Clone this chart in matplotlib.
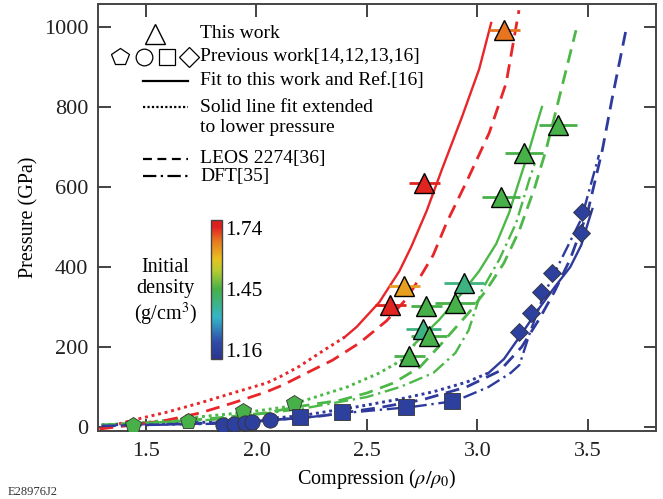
import numpy as np
import matplotlib
matplotlib.use("Agg")
import matplotlib.pyplot as plt
from matplotlib.colors import LinearSegmentedColormap, Normalize
from matplotlib.cm import ScalarMappable

plt.rcParams['font.family'] = ['Liberation Serif', 'DejaVu Serif']
plt.rcParams['mathtext.fontset'] = 'stix'

# ---- data ----
# this work (triangles): compression, pressure, x error, initial density
tri_x = [3.121, 2.76, 2.669, 2.606, 2.769, 2.90, 2.94, 2.755, 2.78, 2.692, 3.211, 3.365, 3.107]
tri_y = [992, 610, 352, 305, 302, 310, 360, 245, 228, 178, 685, 755, 575]
tri_xerr = [0.07, 0.07, 0.07, 0.07, 0.07, 0.09, 0.09, 0.08, 0.08, 0.07, 0.085, 0.085, 0.085]
tri_rho = [1.68, 1.74, 1.633, 1.74, 1.45, 1.45, 1.39, 1.39, 1.45, 1.45, 1.45, 1.45, 1.45]

# previous work
pent_x = [1.44, 1.69, 1.94, 2.17]
pent_y = [5, 14, 40, 60]
circ_x = [1.85, 1.90, 1.95, 1.98, 2.06]
circ_y = [5, 7, 10, 12, 18]
sq_x = [2.195, 2.389, 2.678, 2.886]
sq_y = [25, 38, 50, 65]
dia_x = [3.188, 3.243, 3.288, 3.338, 3.468, 3.473]
dia_y = [238, 285, 337, 385, 485, 537]

# fits (solid) and their extension to low pressure (dotted)
red_fit_x = [2.40, 2.453, 2.556, 2.647, 2.70, 2.77, 2.84, 2.93, 3.008, 3.062]
red_fit_y = [225, 250, 312, 390, 450, 540, 645, 775, 895, 1010]
red_ext_x = [1.29, 1.44, 1.594, 1.744, 1.893, 2.046, 2.105, 2.195, 2.30, 2.40]
red_ext_y = [-5, 17, 37, 60, 85, 110, 125, 152, 190, 225]
green_fit_x = [2.72, 2.827, 2.93, 3.008, 3.085, 3.143, 3.19, 3.234, 3.27, 3.292]
green_fit_y = [210, 268, 335, 390, 458, 535, 617, 692, 760, 800]
green_ext_x = [1.30, 1.51, 1.735, 1.96, 2.13, 2.25, 2.41, 2.556, 2.66, 2.72]
green_ext_y = [5, 12, 25, 37, 50, 72, 100, 135, 168, 210]
blue_fit_x = [3.05, 3.12, 3.19, 3.27, 3.35, 3.42, 3.47, 3.50, 3.52]
blue_fit_y = [135, 170, 225, 290, 350, 400, 455, 510, 545]
blue_ext_x = [1.30, 1.60, 1.90, 2.20, 2.45, 2.65, 2.80, 2.95, 3.05]
blue_ext_y = [5, 9, 14, 28, 50, 70, 88, 112, 135]

# LEOS 2274 (dashed)
red_leos_x = [1.29, 1.44, 1.594, 1.744, 1.893, 2.046, 2.12, 2.227, 2.344, 2.466, 2.588, 2.678, 2.73, 2.80, 2.86, 2.954, 3.053, 3.13, 3.188]
red_leos_y = [-5, 5, 17, 35, 60, 88, 105, 135, 167, 210, 265, 320, 365, 430, 510, 617, 735, 860, 1042]
green_leos_x = [1.30, 1.59, 1.81, 2.04, 2.20, 2.38, 2.50, 2.62, 2.74, 2.84, 2.96, 3.04, 3.12, 3.19, 3.26, 3.31, 3.356, 3.446]
green_leos_y = [5, 12, 22, 35, 52, 67, 85, 110, 150, 210, 285, 342, 410, 492, 600, 692, 792, 992]
blue_leos_x = [1.30, 1.70, 2.00, 2.30, 2.55, 2.75, 2.95, 3.10, 3.20, 3.28, 3.35, 3.42, 3.50, 3.565, 3.608, 3.672]
blue_leos_y = [3, 8, 14, 28, 48, 68, 100, 140, 200, 270, 340, 420, 540, 692, 817, 992]

# DFT (dash-dot)
green_dft_x = [1.30, 1.80, 2.20, 2.50, 2.65, 2.80, 2.90, 2.96, 3.02, 3.10, 3.175, 3.234, 3.26]
green_dft_y = [5, 18, 45, 75, 100, 135, 185, 242, 342, 420, 510, 617, 660]
blue_dft_x = [1.30, 1.80, 2.20, 2.40, 2.70, 2.90, 3.05, 3.15, 3.19, 3.24, 3.30, 3.38, 3.47, 3.55]
blue_dft_y = [3, 8, 22, 35, 50, 65, 100, 135, 155, 240, 330, 420, 520, 680]

cbar_ticks = [1.16, 1.45, 1.74]

RED = '#e8262a'
GREEN = '#4cb848'
BLUE = '#2e3a9c'

cmap = LinearSegmentedColormap.from_list('dens', [
    (0.0, '#2a3590'), (0.12, '#2f4aa8'), (0.30, '#35b5c8'), (0.50, '#45b048'),
    (0.64, '#b8cc30'), (0.72, '#e8c020'), (0.85, '#e87820'), (0.95, '#e02020'),
    (1.0, '#d81e1e')])
norm = Normalize(1.117, 1.778)

fig = plt.figure(figsize=(6.63, 4.99), dpi=100)
ax = fig.add_axes([98/663, 1 - 431/499, 558/663, 427/499])

lw = 1.7
dot = (0, (1, 1.3))
dash = (0, (5, 2.8))
dashdot = (0, (6, 2, 1, 2))

for xs, ys, c in [(red_fit_x, red_fit_y, RED), (green_fit_x, green_fit_y, GREEN), (blue_fit_x, blue_fit_y, BLUE)]:
    ax.plot(xs, ys, color=c, lw=lw, ls='-', zorder=2)
for xs, ys, c in [(red_ext_x, red_ext_y, RED), (green_ext_x, green_ext_y, GREEN), (blue_ext_x, blue_ext_y, BLUE)]:
    ax.plot(xs, ys, color=c, lw=lw + 0.4, ls=dot, zorder=2)
for xs, ys, c in [(red_leos_x, red_leos_y, RED), (green_leos_x, green_leos_y, GREEN), (blue_leos_x, blue_leos_y, BLUE)]:
    ax.plot(xs, ys, color=c, lw=lw + 0.3, ls=dash, zorder=2)
for xs, ys, c in [(green_dft_x, green_dft_y, GREEN), (blue_dft_x, blue_dft_y, BLUE)]:
    ax.plot(xs, ys, color=c, lw=lw, ls=dashdot, zorder=2)

# previous work markers
blue_m = cmap(norm(1.16))
green_m = cmap(norm(1.45))
ax.plot(pent_x, pent_y, 'p', ms=12, mfc=green_m, mec='#333333', mew=0.6, zorder=4)
ax.plot(circ_x, circ_y, 'o', ms=11, mfc=blue_m, mec='#333333', mew=0.6, zorder=4)
ax.plot(sq_x, sq_y, 's', ms=11, mfc=blue_m, mec='#333333', mew=0.6, zorder=4)
ax.plot(dia_x, dia_y, 'D', ms=9.5, mfc=blue_m, mec='#333333', mew=0.6, zorder=4)

# this work
for x, y, xe, r in zip(tri_x, tri_y, tri_xerr, tri_rho):
    c = cmap(norm(r))
    ax.errorbar(x, y, xerr=xe, fmt='none', ecolor=c, elinewidth=2, capsize=0, zorder=5)
    ax.plot(x, y, '^', ms=14, mfc=c, mec='black', mew=1.0, zorder=6)

ax.set_xlim(1.283, 3.808)
ax.set_ylim(-10, 1057.5)
ax.set_xticks([1.5, 2.0, 2.5, 3.0, 3.5])
ax.set_yticks([0, 200, 400, 600, 800, 1000])
ax.tick_params(direction='in', length=9, width=1.2, top=True, right=True,
               labelsize=16, colors='#222222')
ax.tick_params(axis='x', pad=8)
ax.tick_params(axis='y', pad=7)
for s in ax.spines.values():
    s.set_linewidth(1.4)
    s.set_color('#444444')
ax.set_xlabel(r'Compression ($\rho/\rho_0$)', fontsize=14.5, labelpad=4)
ax.set_ylabel('Pressure (GPa)', fontsize=14.5, labelpad=4)

# legend drawn by hand
def ax_xy(px, py):
    return (px - 98) / 558, (431 - py) / 427

lk = dict(transform=ax.transAxes, clip_on=False, zorder=7)
tx = ax_xy(200, 0)[0]
fs = 14

x0, y0 = ax_xy(155, 34)
ax.plot([x0], [y0], '^', ms=14, mfc='white', mec='black', mew=1.0, **lk)
ax.text(tx, y0, 'This work', fontsize=fs, va='center', transform=ax.transAxes)

y1 = ax_xy(0, 57)[1]
for px, m, ms in [(120, 'p', 13), (144, 'o', 12), (167, 's', 12), (189, 'D', 10)]:
    ax.plot([ax_xy(px, 0)[0]], [y1], m, ms=ms, mfc='white', mec='black', mew=0.9, **lk)
ax.text(tx, y1, 'Previous work[14,12,13,16]', fontsize=fs, va='center', transform=ax.transAxes)

lx = [ax_xy(143, 0)[0], ax_xy(188, 0)[0]]
y2 = ax_xy(0, 81)[1]
ax.plot(lx, [y2, y2], color='black', lw=1.6, ls='-', **lk)
ax.text(tx, y2, 'Fit to this work and Ref.[16]', fontsize=fs, va='center', transform=ax.transAxes)

y3 = ax_xy(0, 107)[1]
ax.plot(lx, [y3, y3], color='black', lw=1.6, ls=(0, (1, 1)), **lk)
ax.text(tx, y3, 'Solid line fit extended', fontsize=fs, va='center', transform=ax.transAxes)
ax.text(tx, ax_xy(0, 128)[1], 'to lower pressure', fontsize=fs, va='center', transform=ax.transAxes)

y4 = ax_xy(0, 159)[1]
ax.plot(lx, [y4, y4], color='black', lw=1.6, ls=(0, (4, 2.5)), **lk)
ax.text(tx, y4, 'LEOS 2274[36]', fontsize=fs, va='center', transform=ax.transAxes)

y5 = ax_xy(0, 176)[1]
ax.plot(lx, [y5, y5], color='black', lw=1.6, ls=(0, (6, 2, 1, 2)), **lk)
ax.text(tx, y5, 'DFT[35]', fontsize=fs, va='center', transform=ax.transAxes)

# colour bar
cax = fig.add_axes([211/663, 1 - 359/499, 11/663, 139/499])
cb = fig.colorbar(ScalarMappable(norm=norm, cmap=cmap), cax=cax)
cb.set_ticks(cbar_ticks)
cb.set_ticklabels([f'{t:.2f}' for t in cbar_ticks])
cax.tick_params(length=0, labelsize=15.5, pad=2)
cb.outline.set_linewidth(1.0)
cb.outline.set_edgecolor('#444444')
fig.text(165/663, 1 - 293/499, 'Initial\ndensity\n(g/cm$^3$)', fontsize=14.5,
         ha='center', va='center', linespacing=1.15)

fig.text(8/663, 1 - 492/499, 'E28976J2', fontsize=9, ha='left', va='center', color='#333333')

fig.savefig('out.png', dpi=100)
